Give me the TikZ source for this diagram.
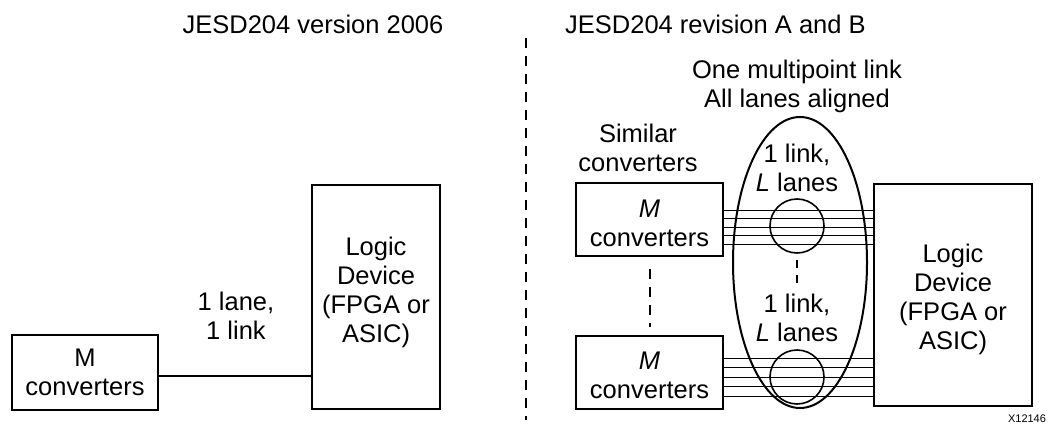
\documentclass[tikz,border=0pt]{standalone}
\usepackage{fontspec}
\setmainfont{Liberation Sans}
\usetikzlibrary{calc,shapes.geometric}
\begin{document}
\begin{tikzpicture}[x=1pt,y=-1pt,
  txt/.style={font=\fontsize{25.5}{29}\selectfont, align=center, inner sep=0pt},
  box/.style={draw, line width=2pt, minimum width=#1},
  lane/.style={line width=0.9pt},
  divider/.style={line width=2pt, dash pattern=on 10pt off 8pt}]
\useasboundingbox (0,0) rectangle (1057,428);
% left side
\node[txt] (t1) at (313,24) {JESD204 version 2006};
\node[box=146pt, minimum height=75pt] (lm) at (85,372) {};
\node[txt] (lmt) at (lm.center) {M\\converters};
\node[box=128pt, minimum height=224pt] (ll) at (376,297) {};
\node[txt] (llt) at (376,292) {Logic\\Device\\(FPGA or\\ASIC)};
\coordinate (la) at (158,376);
\draw[line width=2pt] (la) -- (la -| ll.west);
\node[txt] (llab) at (236,316) {1 lane,\\1 link};
% divider
\coordinate (d1) at (526,38);
\coordinate (d2) at (526,420);
\draw[divider] (d1) -- (d2);
% right side
\node[txt, anchor=west] (t2) at (565,24) {JESD204 revision A and B};
\node[txt] (ml) at (797,86) {One multipoint link\\All lanes aligned};
\node[txt] (sc) at (638,148) {Similar\\converters};
\node[box=147pt, minimum height=73pt] (rm1) at (649.5,219.5) {};
\node[txt] (rm1t) at (649.5,223) {\textit{M}\\converters};
\node[box=147pt, minimum height=73pt] (rm2) at (649.5,372.5) {};
\node[txt] (rm2t) at (649.5,375) {\textit{M}\\converters};
\node[box=158pt, minimum height=222pt] (rl) at (953,295) {};
\node[txt] (rlt) at (953,299) {Logic\\Device\\(FPGA or\\ASIC)};
\draw[divider] ($(rm1.south)+(0,12)$) coordinate (v1) -- ($(rm2.north)+(0,-8)$) coordinate (v2);
\foreach \y in {210,218.5,227,235.5,244} {
  \draw[lane] (rm1.east |- 0,\y) -- (rl.west |- 0,\y);
}
\foreach \y in {358,367.5,377,386.5,396} {
  \draw[lane] (rm2.east |- 0,\y) -- (rl.west |- 0,\y);
}
\node[draw, line width=1.6pt, circle, minimum size=54pt, inner sep=0pt] (c1) at (797,226) {};
\node[draw, line width=1.6pt, circle, minimum size=54pt, inner sep=0pt] (c2) at (797,377) {};
\node[draw, line width=2pt, ellipse, minimum width=134pt, minimum height=291pt, inner sep=0pt] (el) at (800,262.5) {};
\draw[line width=2pt, dash pattern=on 8pt off 7pt] ($(c1.south)+(0,6)$) coordinate (w1) -- (797,286) coordinate (w2);
\node[txt] (l1) at (797,168) {1 link,\\\textit{L} lanes};
\node[txt] (l2) at (797,318) {1 link,\\\textit{L} lanes};
\node[font=\fontsize{11}{13}\selectfont, inner sep=0pt] (x) at (1027,419) {X12146};
\end{tikzpicture}
\end{document}
